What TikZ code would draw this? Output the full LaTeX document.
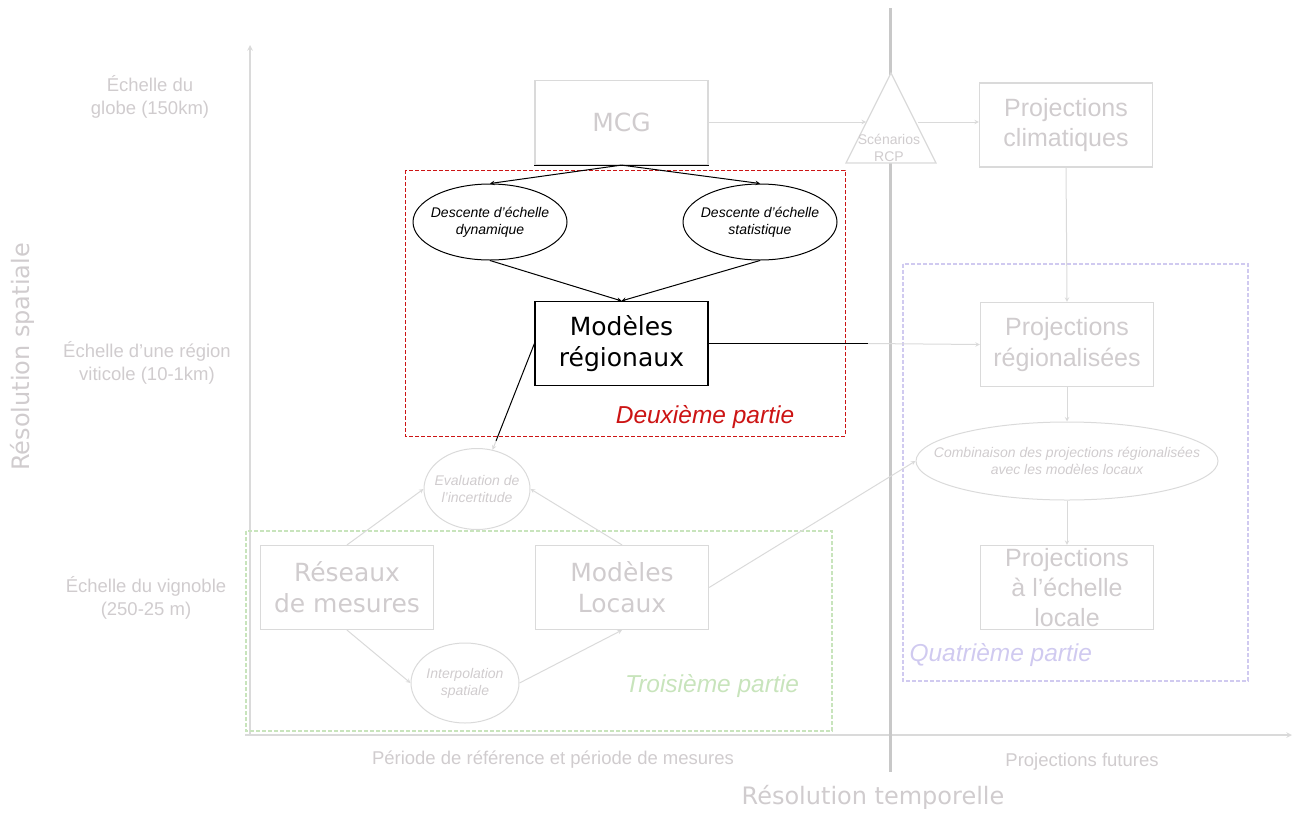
\documentclass[tikz,border=0pt]{standalone}
\usepackage{fontspec}
\setmainfont{Liberation Sans}
\newfontfamily\dejavu{DejaVu Sans}
\usetikzlibrary{shapes.geometric}

\definecolor{linegray}{RGB}{218,218,218}
\definecolor{txtgray}{RGB}{208,204,206}
\definecolor{sepgray}{RGB}{200,200,200}
\definecolor{partred}{RGB}{204,20,20}
\definecolor{partgreen}{RGB}{200,228,188}
\definecolor{partpurple}{RGB}{208,202,240}

\begin{document}
\begin{tikzpicture}[x=1pt,y=-1pt]
\tikzstyle{faint} = [rectangle, draw=linegray, line width=1.2pt, text=txtgray, minimum width=173pt, minimum height=84pt, align=center, inner sep=0pt]
\tikzstyle{bubble} = [ellipse, draw, line width=1pt, align=center, inner xsep=-40pt, inner ysep=-10pt, font=\itshape\fontsize{14}{17}\selectfont]
\tikzstyle{arrow} = [line width=1pt,->,>=stealth]
\tikzstyle{grayarrow} = [arrow, draw=linegray]
\tikzstyle{axislabel} = [text=txtgray, align=center, font=\fontsize{18.5}{23}\selectfont]
\tikzstyle{partlabel} = [font=\itshape\fontsize{24.5}{28}\selectfont]

\useasboundingbox (0,0) rectangle (1297,814);

% axes
\draw [grayarrow, line width=1.5pt] (250,735) -- (250,45);
\draw [grayarrow, line width=1.5pt] (245,735) -- (1292,735);
\draw [sepgray, line width=3pt] (890,8) -- (890,772);

% frames of the parts
\draw [partred, line width=1pt, dash pattern=on 4pt off 2pt] (405,170) rectangle (845,436);
\draw [partgreen, line width=1.2pt, dash pattern=on 4pt off 2pt] (246,531) rectangle (832,731);
\draw [partpurple, line width=1.2pt, dash pattern=on 4pt off 2pt] (903,264) rectangle (1248,681);

% scenarios
\draw [linegray, line width=1.2pt, fill=white] (891,73) -- (936,163) -- (846,163) -- cycle;
\node (rcp) [text=txtgray, align=center, font=\fontsize{14}{17}\selectfont] at (889,148) {Scénarios\\RCP};
\coordinate (rcpin) at (866,122);
\coordinate (rcpout) at (918,122);

\node (mcg) [faint, font=\dejavu\fontsize{25}{31}\selectfont] at (621.5,122.5) {MCG};
\node (pclim) [faint, font=\fontsize{25}{30}\selectfont] at (1066,125) {Projections\\climatiques};
\node (dyn) [bubble, minimum width=154pt, minimum height=76pt] at (490,222) {Descente d'échelle\\dynamique};
\node (stat) [bubble, minimum width=154pt, minimum height=76pt] at (760,222) {Descente d'échelle\\statistique};
\node (regmod) [faint, draw=black, text=black, font=\dejavu\fontsize{25}{31}\selectfont] at (621.5,343.5) {Modèles\\régionaux};
\node (part2) [partlabel, text=partred] at (705,417) {Deuxième partie};

\node (preg) [faint, font=\fontsize{25}{31}\selectfont] at (1067,344.5) {Projections\\régionalisées};
\node (comb) [bubble, draw=linegray, text=txtgray, minimum width=302pt, minimum height=78pt] at (1067,461) {Combinaison des projections régionalisées\\avec les modèles locaux};
\node (ploc) [faint, font=\fontsize{25}{30}\selectfont] at (1067,587.5) {Projections\\à l'échelle\\locale};
\node (part4) [partlabel, text=partpurple, anchor=west] at (906,655) {Quatrième partie};

\node (eval) [bubble, draw=linegray, text=txtgray, minimum width=106pt, minimum height=81pt] at (477,489) {Evaluation de\\l'incertitude};
\node (reseaux) [faint, font=\dejavu\fontsize{25}{31}\selectfont] at (347,587.5) {Réseaux\\de mesures};
\node (modloc) [faint, font=\dejavu\fontsize{25}{31}\selectfont] at (622,587.5) {Modèles\\Locaux};
\node (interp) [bubble, draw=linegray, text=txtgray, minimum width=108pt, minimum height=80pt] at (465,683) {Interpolation\\spatiale};
\node (part3) [partlabel, text=partgreen] at (712,686) {Troisième partie};

% axis texts
\node (globe) [axislabel] at (150,97) {Échelle du\\globe (150km)};
\node (region) [axislabel] at (147,363) {Échelle d'une région\\viticole (10-1km)};
\node (vignoble) [axislabel] at (146,598) {Échelle du vignoble\\(250-25 m)};
\node (spatial) [rotate=90, text=txtgray, font=\dejavu\fontsize{24}{28}\selectfont] at (22,357) {Résolution spatiale};
\node (periode) [axislabel] at (553,760) {Période de référence et période de mesures};
\node (futur) [axislabel] at (1082,762) {Projections futures};
\node (temporel) [text=txtgray, font=\dejavu\fontsize{24}{28}\selectfont] at (873,797) {Résolution temporelle};

% connectors
\draw [black, line width=1.2pt] (mcg.south west) -- (mcg.south east);
\draw [grayarrow] (mcg.east |- rcpin) -- (rcpin);
\draw [grayarrow] (rcpout) -- (pclim.west |- rcpout);
\draw [grayarrow] (pclim.south) -- (preg.north);
\draw [arrow] (mcg.south) -- (dyn.north);
\draw [arrow] (mcg.south) -- (stat.north);
\draw [arrow] (dyn.south) -- (regmod.north);
\draw [arrow] (stat.south) -- (regmod.north);

\coordinate (reghalf) at (868,343.5);
\draw [black, line width=1pt] (regmod.east) -- (reghalf);
\draw [grayarrow] (reghalf) -- (preg.west);
\coordinate (evtop) at (496,441);
\draw [black, line width=1pt] (regmod.west) -- (evtop);
\draw [grayarrow] (evtop) -- (eval);

\draw [grayarrow] (reseaux.north) -- (eval.west);
\draw [grayarrow] (modloc.north) -- (eval.east);
\draw [grayarrow] (reseaux.south) -- (interp.west);
\draw [grayarrow] (interp.east) -- (modloc.south);
\draw [grayarrow] (modloc.east) -- (comb.west);
\draw [grayarrow] (preg.south) -- (comb.north);
\draw [grayarrow] (comb.south) -- (ploc.north);

\end{tikzpicture}
\end{document}
